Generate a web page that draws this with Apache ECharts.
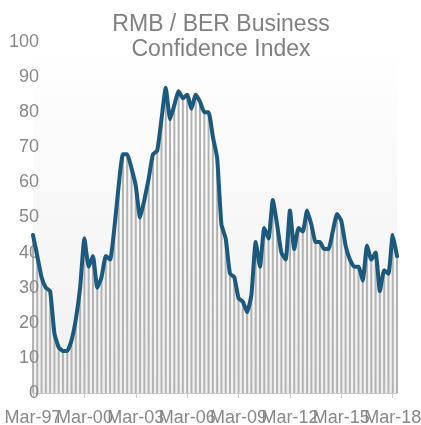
<!DOCTYPE html>
<html>
<head>
<meta charset="utf-8">
<script src="https://cdn.jsdelivr.net/npm/echarts@6/dist/echarts.min.js"></script>
<style>
  html, body { margin: 0; padding: 0; background: #fff; }
  #main { width: 421px; height: 425px; }
</style>
</head>
<body>
<div id="main"></div>
<script>
// quarterly, Mar-97 .. Jun-18
var years = ['97','98','99','00','01','02','03','04','05','06','07','08','09','10','11','12','13','14','15','16','17','18'];
var months = ['Mar','Jun','Sep','Dec'];
var quarters = [];
for (var y = 0; y < years.length; y++) {
    for (var m = 0; m < months.length; m++) {
        quarters.push(months[m] + '-' + years[y]);
    }
}
quarters = quarters.slice(0, 86);

var bci = [
    45, 39, 33, 30, 29, 17, 13, 12, 12, 15,
    21, 30, 44, 36, 39, 30, 33, 39, 38, 47,
    59, 68, 68, 64, 59, 50, 55, 61, 68, 69,
    78, 87, 78, 82, 86, 84, 85, 81, 85, 83,
    80, 80, 73, 67, 48, 44, 34, 33, 27, 26,
    23, 28, 43, 36, 47, 44, 55, 48, 40, 38,
    52, 41, 47, 46, 52, 48, 43, 43, 41, 41,
    46, 51, 49, 42, 38, 36, 36, 32, 42, 38,
    40, 29, 35, 34, 45, 39
];

var yTicks = [0, 100, 10];  // min, max, step

var font = 'Liberation Sans, Arial, sans-serif';
var grey = '#888888';

// ticks every 3 years (Mar); the labels overlap each other, so they are
// split over two stacked axes to stop echarts from hiding half of them
function everyThreeYears(i) { return i % 12 === 0; }
function evenLabels(i) { return i % 24 === 0; }
function oddLabels(i) { return i % 24 === 12; }

function xLabel(fn) {
    return {
        interval: fn,
        margin: 16,
        color: grey,
        fontFamily: font,
        fontSize: 18
    };
}

var chart = echarts.init(document.getElementById('main'));
var option = {
    animation: false,
    title: {
        text: 'RMB / BER Business\nConfidence Index',
        left: 216,
        top: 7,
        textAlign: 'center',
        textStyle: {
            fontFamily: font,
            fontSize: 23,
            fontWeight: 'normal',
            color: '#808080',
            lineHeight: 25
        }
    },
    grid: {
        left: 33,
        right: 24,
        top: 42,
        bottom: 32,
        outerBoundsMode: 'none',
        containLabel: false,
        show: true,
        borderWidth: 0,
        backgroundColor: new echarts.graphic.LinearGradient(0, 0, 0, 1, [
            { offset: 0, color: '#ffffff' },
            { offset: 1, color: '#f0f0f0' }
        ])
    },
    xAxis: [
        {
            type: 'category',
            data: quarters,
            boundaryGap: false,
            position: 'bottom',
            z: 2,
            axisLine: { show: true, lineStyle: { color: '#cccccc', width: 1 } },
            axisTick: { show: true, interval: everyThreeYears, length: 5, lineStyle: { color: '#cccccc' } },
            axisLabel: xLabel(evenLabels),
            splitLine: { show: false }
        },
        {
            type: 'category',
            data: quarters,
            boundaryGap: false,
            position: 'bottom',
            offset: 0,
            z: 2,
            axisLine: { show: false },
            axisTick: { show: false },
            axisLabel: xLabel(oddLabels),
            splitLine: { show: false }
        }
    ],
    yAxis: {
        type: 'value',
        min: yTicks[0],
        max: yTicks[1],
        interval: yTicks[2],
        z: 2,
        axisLine: { show: false },
        axisTick: { show: false },
        splitLine: { show: false },
        axisLabel: {
            margin: -6,
            color: grey,
            fontFamily: font,
            fontSize: 18
        }
    },
    series: [
        {
            type: 'bar',
            data: bci,
            barWidth: 2,
            itemStyle: { color: '#b3b3b3' },
            silent: true,
            z: 1
        },
        {
            type: 'line',
            data: bci,
            symbol: 'none',
            smooth: 0.15,
            lineStyle: { color: '#1b5a7e', width: 4, join: 'round', cap: 'round' },
            z: 3
        }
    ]
};
chart.setOption(option);
</script>
</body>
</html>
